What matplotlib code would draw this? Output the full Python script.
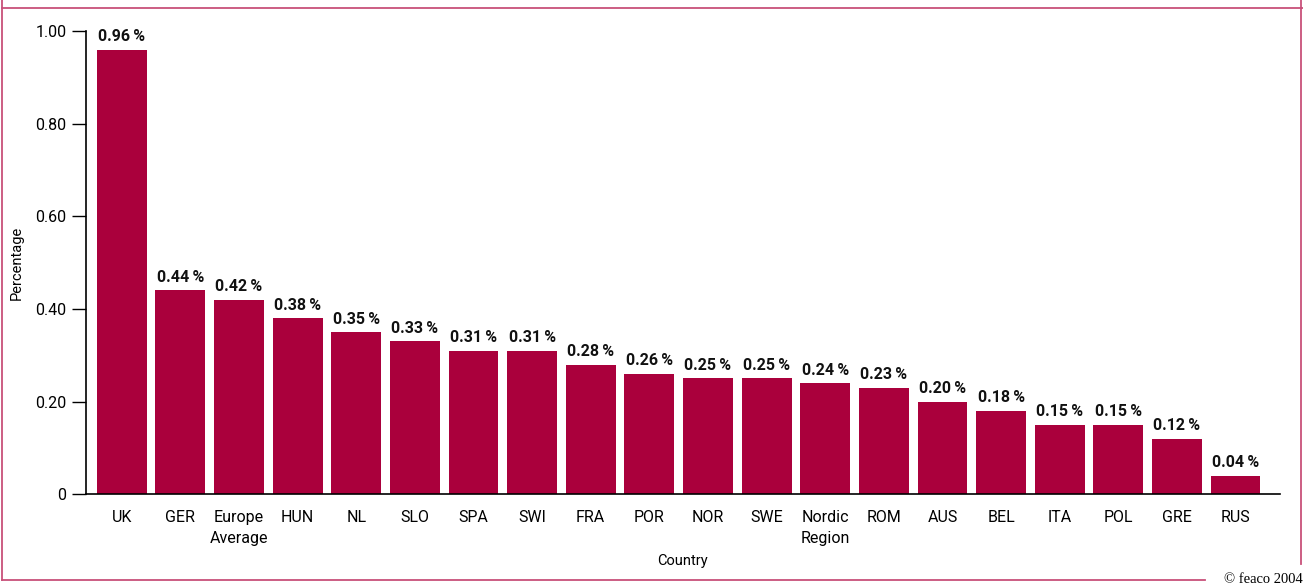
import matplotlib
matplotlib.use("Agg")
import matplotlib.pyplot as plt
from matplotlib.lines import Line2D

countries = ["UK", "GER", "Europe\nAverage", "HUN", "NL", "SLO", "SPA", "SWI", "FRA", "POR",
             "NOR", "SWE", "Nordic\nRegion", "ROM", "AUS", "BEL", "ITA", "POL", "GRE", "RUS"]
values = [0.96, 0.44, 0.42, 0.38, 0.35, 0.33, 0.31, 0.31, 0.28, 0.26,
          0.25, 0.25, 0.24, 0.23, 0.20, 0.18, 0.15, 0.15, 0.12, 0.04]
yticks = [0, 0.2, 0.4, 0.6, 0.8, 1.0]
ytick_labels = ["0", "0.20", "0.40", "0.60", "0.80", "1.00"]

plt.rcParams['font.family'] = ['Roboto', 'DejaVu Sans']

bar_color = "#AA003C"
frame_color = "#C8507A"

fig = plt.figure(figsize=(13.03, 5.87), dpi=100)
ax = fig.add_axes([0.066, 0.158, 0.916, 0.789])

x = list(range(len(countries)))
ax.bar(x, values, width=0.85, color=bar_color)
for xi, v in zip(x, values):
    ax.text(xi, v + 0.012, f"{v:.2f}\u2009%", ha="center", va="bottom",
            fontsize=11.5, fontweight="bold", color="#111111")

ax.set_xlim(-0.61, len(countries) - 1 + 0.75)
ax.set_ylim(0, 1.0)
ax.set_yticks(yticks)
ax.set_yticklabels(ytick_labels, fontsize=11.5)
ax.set_xticks(x)
ax.set_xticklabels(countries, fontsize=11.5, linespacing=1.55, va="top")
ax.tick_params(axis="x", length=0, pad=11)
ax.tick_params(axis="y", length=10, width=1, direction="out", pad=4)
for s in ["top", "right"]:
    ax.spines[s].set_visible(False)
for s in ["left", "bottom"]:
    ax.spines[s].set_linewidth(1.2)
ax.set_ylabel("Percentage", fontsize=10.5)
ax.yaxis.set_label_coords(-0.052, 0.5)
ax.set_xlabel("Country", fontsize=10.5)
ax.xaxis.set_label_coords(0.5, -0.128)

# frame lines
fig.add_artist(Line2D([0.0015, 1.0], [0.987, 0.987], transform=fig.transFigure, color=frame_color, lw=1.3))
fig.add_artist(Line2D([0.0015, 0.0015], [1.0, 0.012], transform=fig.transFigure, color=frame_color, lw=1.3))
fig.add_artist(Line2D([0.0015, 0.925], [0.012, 0.012], transform=fig.transFigure, color=frame_color, lw=1.3))
fig.add_artist(Line2D([0.9985, 0.9985], [1.0, 0.04], transform=fig.transFigure, color=frame_color, lw=1.3))
fig.text(0.9995, 0.013, "\u00a9 feaco 2004", ha="right", va="center", fontsize=10.5,
         family=['Liberation Serif', 'DejaVu Serif'])

fig.savefig("out.png", dpi=100)
